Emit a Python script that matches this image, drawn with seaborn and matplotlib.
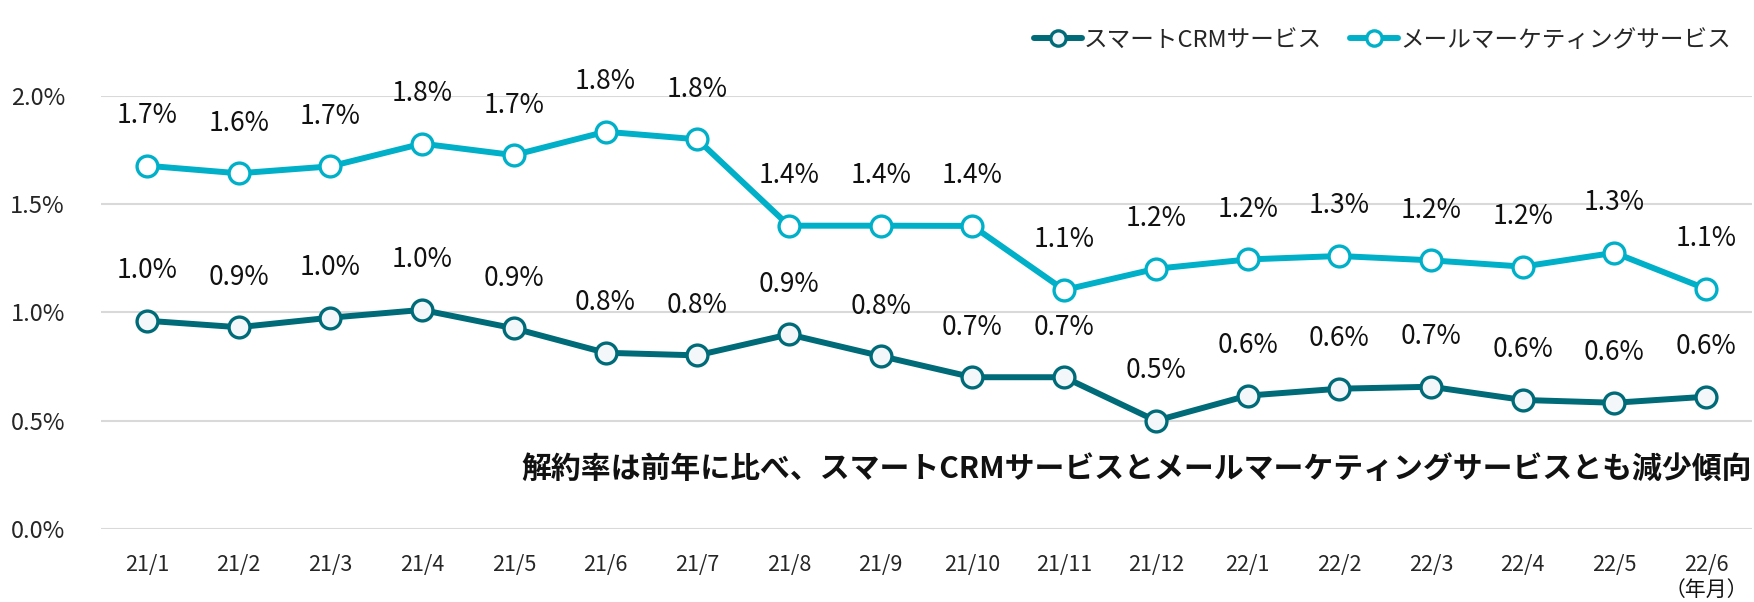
import seaborn as sns
import pandas as pd
import matplotlib.pyplot as plt

months = ["21/1", "21/2", "21/3", "21/4", "21/5", "21/6", "21/7", "21/8", "21/9",
          "21/10", "21/11", "21/12", "22/1", "22/2", "22/3", "22/4", "22/5", "22/6"]
crm = [0.962, 0.932, 0.976, 1.012, 0.927, 0.814, 0.802, 0.899, 0.799,
       0.701, 0.701, 0.500, 0.616, 0.648, 0.657, 0.596, 0.583, 0.611]
mail = [1.678, 1.643, 1.675, 1.780, 1.727, 1.835, 1.800, 1.401, 1.401,
        1.400, 1.104, 1.202, 1.245, 1.261, 1.241, 1.212, 1.276, 1.109]
series_names = ["スマートCRMサービス", "メールマーケティングサービス"]
yticks = [0.0, 0.5, 1.0, 1.5, 2.0]
note = "解約率は前年に比べ、スマートCRMサービスとメールマーケティングサービスとも減少傾向"

sns.set_style("white")
plt.rcParams['font.family'] = ['Noto Sans CJK JP', 'DejaVu Sans']

df = pd.DataFrame({"month": months * 2,
                   "rate": crm + mail,
                   "service": [series_names[0]] * len(months) + [series_names[1]] * len(months)})
df["x"] = list(range(len(months))) * 2

colors = {series_names[0]: "#006b78", series_names[1]: "#00b0c9"}
faces = {series_names[0]: "#f3f7f9", series_names[1]: "#ffffff"}

fig = plt.figure(figsize=(17.54, 6.02), dpi=100)
ax = fig.add_axes([0.0576, 0.1213, 0.9413, 0.7192])

for name in series_names:
    sub = df[df["service"] == name]
    sns.lineplot(data=sub, x="x", y="rate", ax=ax, color=colors[name], linewidth=4.3,
                 marker="o", markersize=15, markeredgewidth=2.4,
                 markerfacecolor=faces[name], markeredgecolor=colors[name],
                 label=name, zorder=3)
    for xi, v in zip(sub["x"], sub["rate"]):
        ax.annotate(f"{v:.1f}%", (xi, v), xytext=(0, 36), textcoords="offset points",
                    ha="center", va="center", fontsize=19, color="#111111",
                    annotation_clip=False)

ax.set_xlim(-0.5, len(months) - 0.5)
ax.set_ylim(0, 2.0)
ax.set_yticks(yticks)
ax.set_yticklabels([f"{t:.1f}%" for t in yticks], fontsize=17)
ax.set_xticks(range(len(months)))
ax.set_xticklabels(months, fontsize=15.5)
ax.tick_params(axis="x", length=0, pad=18)
ax.tick_params(axis="y", length=0, pad=26)
ax.yaxis.grid(True, color="#d9d9d9", linewidth=1.5)
ax.set_axisbelow(True)
for s in ax.spines.values():
    s.set_visible(False)
ax.set_xlabel("")
ax.set_ylabel("")

ax.text(len(months) - 0.5, 0.28, note, ha="right", va="center",
        fontsize=21.5, fontweight="bold", color="#111111")
ax.text(len(months) - 1, -0.28, "（年月）", ha="center", va="center",
        fontsize=15, color="#111111", clip_on=False)

leg = ax.legend(loc="upper right", bbox_to_anchor=(1.0, 1.205), ncol=2, frameon=False,
                fontsize=17, handlelength=2.0, handletextpad=0.1, columnspacing=1.2)
for h in leg.legend_handles:
    h.set_markersize(11)

fig.savefig("out.png", dpi=100)
